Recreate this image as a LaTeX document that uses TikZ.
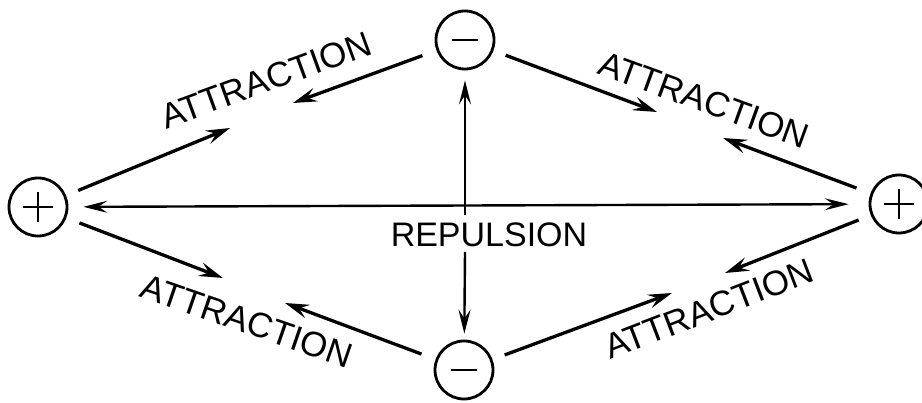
\documentclass[tikz,border=0pt]{standalone}
\usepackage{fontspec}
\setmainfont{Liberation Sans}
\usetikzlibrary{arrows.meta}
\begin{document}
\begin{tikzpicture}[x=1pt,y=-1pt,
  charge/.style={draw, circle, line width=2.8pt, minimum size=58pt, inner sep=0pt},
  sign/.style={line width=2.8pt},
  tip/.style={Stealth[length=24pt,width=14pt,inset=9pt]},
  arr/.style={line width=3.3pt, -{Stealth[length=24pt,width=14pt,inset=9pt]}},
  thinarr/.style={line width=2.4pt, -{Stealth[length=24pt,width=12pt,inset=9pt]}},
  lbl/.style={font=\fontsize{35}{35}\selectfont, inner sep=0pt},
  replbl/.style={font=\fontsize{34}{34}\selectfont, inner sep=0pt}]
\useasboundingbox (0,0) rectangle (922,403);
% charges
\node[charge] (lp) at (38,207) {};
\node[charge] (rp) at (899,204) {};
\node[charge] (tm) at (465,40) {};
\node[charge] (bm) at (464,370) {};
\draw[sign] ([xshift=-15pt]lp.center) -- ([xshift=15pt]lp.center);
\draw[sign] ([yshift=-15pt]lp.center) -- ([yshift=15pt]lp.center);
\draw[sign] ([xshift=-15pt]rp.center) -- ([xshift=15pt]rp.center);
\draw[sign] ([yshift=-15pt]rp.center) -- ([yshift=15pt]rp.center);
\draw[sign] ([xshift=-13pt]tm.center) -- ([xshift=13pt]tm.center);
\draw[sign] ([xshift=-13pt]bm.center) -- ([xshift=13pt]bm.center);
% arrow tips
\coordinate (a1) at (230,128);
\coordinate (a2) at (293,103);
\coordinate (a3) at (657,112);
\coordinate (a4) at (723,138);
\coordinate (a5) at (725,273);
\coordinate (a6) at (285,303);
\coordinate (a7) at (672,293);
\coordinate (a8) at (223,278);
\coordinate (vtop) at (465,215);
\coordinate (vbot) at (465,252);
% attraction arrows
\draw[arr, shorten <=13pt] (lp) -- (a1);
\draw[arr, shorten <=15pt] (tm) -- (a2);
\draw[arr, shorten <=13pt] (tm) -- (a3);
\draw[arr, shorten <=15pt] (rp) -- (a4);
\draw[arr, shorten <=13pt] (rp) -- (a5);
\draw[arr, shorten <=15pt] (bm) -- (a6);
\draw[arr, shorten <=13pt] (bm) -- (a7);
\draw[arr, shorten <=14pt] (lp) -- (a8);
% repulsion arrows
\draw[line width=2.4pt, {Stealth[length=24pt,width=12pt,inset=9pt]}-{Stealth[length=24pt,width=12pt,inset=9pt]}, shorten <=15pt, shorten >=20pt] (lp) -- (rp);
\draw[thinarr, shorten >=10pt] (vtop) -- (tm);
\draw[thinarr, shorten >=6pt] (vbot) -- (bm);
% labels
\node[lbl, rotate=20] (t1) at (266,80) {ATTRACTION};
\node[lbl, rotate=-20] (t2) at (704,100) {ATTRACTION};
\node[lbl, rotate=-19] (t3) at (247,321) {ATTRACTION};
\node[lbl, rotate=21] (t4) at (709,309) {ATTRACTION};
\node[replbl] (rep) at (489,235) {REPULSION};
\end{tikzpicture}
\end{document}
